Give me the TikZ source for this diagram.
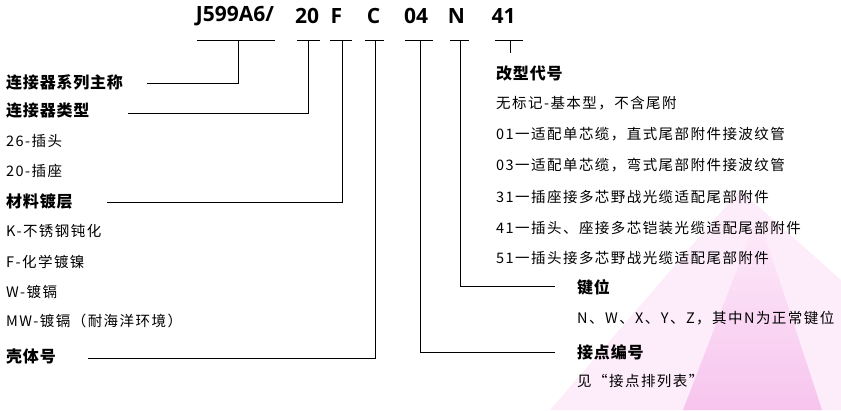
\documentclass[tikz,border=0pt]{standalone}
\usepackage{fontspec}
\setmainfont{Noto Sans CJK SC}
\newfontfamily\bodyf[LetterSpace=10]{Noto Sans CJK SC}
\newfontfamily\hdrf[LetterSpace=5]{Noto Sans CJK SC}
\newfontfamily\codef{Open Sans}
\definecolor{pinkpale}{RGB}{253,236,250}
\definecolor{pinkbright}{RGB}{247,196,238}
\begin{document}
\begin{tikzpicture}[x=1pt,y=-1pt,
  lbl/.style={anchor=west, inner sep=0pt, font=\bodyf\fontsize{14.5}{15}\selectfont},
  hdr/.style={anchor=west, inner sep=0pt, font=\hdrf\bfseries\fontsize{16}{16}\selectfont},
  code/.style={inner sep=0pt, font=\codef\bfseries\fontsize{21}{21}\selectfont},
  ln/.style={line width=0.9pt, black}]
\useasboundingbox (0,0) rectangle (841,410);
% background decoration
\fill[pinkpale] (550,410) -- (740,190) -- (841,280) -- (841,410) -- cycle;
\shade[top color=pinkpale, bottom color=pinkbright] (683,410) -- (758,215) -- (822,410) -- cycle;
% code line
\node[code] (c1) at (235,16) {J599A6/};
\node[code] (c2) at (307,16) {20};
\node[code] (c3) at (336.5,16) {F};
\node[code] (c4) at (373.5,16) {C};
\node[code] (c5) at (416,16) {04};
\node[code] (c6) at (456.5,16) {N};
\node[code] (c7) at (503.5,16) {41};
% bars under code
\foreach \n/\a/\b/\s in {1/197/275/238, 2/297/320/308, 3/330/352/342, 4/365/384/375, 5/405/433/420, 6/450/469/460, 7/495/523/510}{
  \coordinate (bl\n) at (\a,40);
  \coordinate (br\n) at (\b,40);
  \coordinate (s\n) at (\s,40);
  \draw[ln] (bl\n) -- (br\n);
}
% left labels
\node[hdr] (l1) at (6,82) {连接器系列主称};
\node[hdr] (l2) at (6,111) {连接器类型};
\node[lbl] (l2a) at (6,141) {26-插头};
\node[lbl] (l2b) at (6,171) {20-插座};
\node[hdr] (l3) at (6,201) {材料镀层};
\node[lbl] (l3a) at (6,231) {K-不锈钢钝化};
\node[lbl] (l3b) at (6,262) {F-化学镀镍};
\node[lbl] (l3c) at (6,292) {W-镀镉};
\node[lbl] (l3d) at (6,321) {MW-镀镉（耐海洋环境）};
\node[hdr] (l4) at (6,356) {壳体号};
% right labels
\node[hdr] (r7) at (496,73) {改型代号};
\node[lbl] (r7a) at (496,103) {无标记-基本型，不含尾附};
\node[lbl] (r7b) at (496,134) {01一适配单芯缆，直式尾部附件接波纹管};
\node[lbl] (r7c) at (496,165) {03一适配单芯缆，弯式尾部附件接波纹管};
\node[lbl] (r7d) at (496,197) {31一插座接多芯野战光缆适配尾部附件};
\node[lbl] (r7e) at (496,228) {41一插头、座接多芯铠装光缆适配尾部附件};
\node[lbl] (r7f) at (496,258) {51一插头接多芯野战光缆适配尾部附件};
\node[hdr] (r6) at (577,287) {键位};
\node[lbl] (r6a) at (577,318) {N、W、X、Y、Z，其中N为正常键位};
\node[hdr] (r5) at (577,352) {接点编号};
\node[lbl] (r5a) at (577,381) {见“接点排列表”};
% connector ends
\coordinate (e1) at (147,83);
\coordinate (e2) at (128,113);
\coordinate (e3) at (107,202);
\coordinate (e4) at (88,358);
\coordinate (e5) at (555,352);
\coordinate (e6) at (555,286);
\coordinate (e7) at (510,53);
\draw[ln] (s1) |- (e1);
\draw[ln] (s2) |- (e2);
\draw[ln] (s3) |- (e3);
\draw[ln] (s4) |- (e4);
\draw[ln] (s5) |- (e5);
\draw[ln] (s6) |- (e6);
\draw[ln] (s7) -- (e7);
\end{tikzpicture}
\end{document}
